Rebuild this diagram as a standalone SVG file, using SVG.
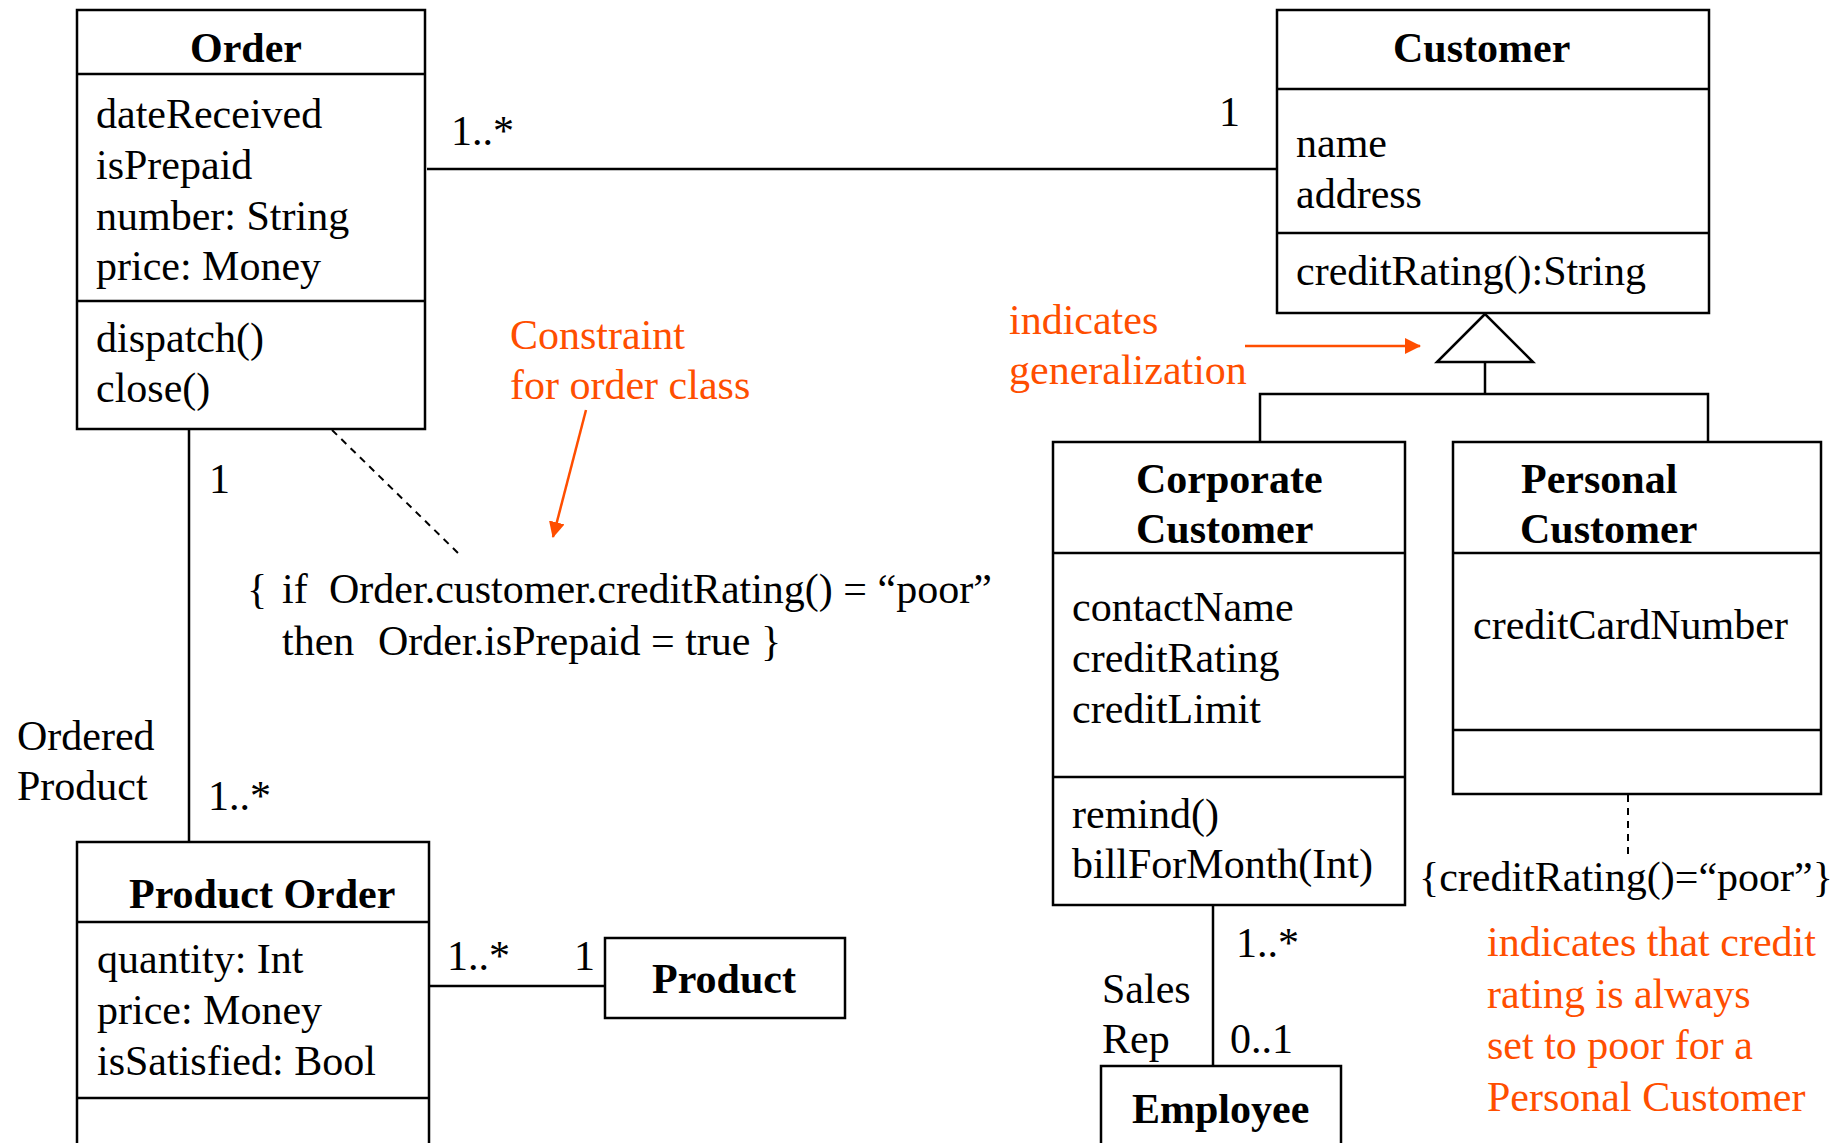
<svg xmlns="http://www.w3.org/2000/svg" width="1848" height="1143" viewBox="0 0 1848 1143">
<defs>
<style>
text{font-family:"Liberation Serif","Times New Roman",serif;font-size:42px;fill:#000}
.b{font-weight:bold}
.o{fill:#FF4E00}
.box{fill:#fff;stroke:#000;stroke-width:2.5}
.ln{stroke:#000;stroke-width:2.5;fill:none}
.dash{stroke:#000;stroke-width:2;fill:none;stroke-dasharray:7 6}
.oln{stroke:#FF4E00;stroke-width:2.5;fill:none}
</style>
<marker id="oa" viewBox="0 0 16 16" refX="15" refY="8" markerWidth="16" markerHeight="16" markerUnits="userSpaceOnUse" orient="auto">
<path d="M0,0 L16,8 L0,16 Z" fill="#FF4E00"/>
</marker>
</defs>
<rect width="1848" height="1143" fill="#fff"/>

<g id="connectors">
<line class="ln" x1="427" y1="169" x2="1277" y2="169"/>
<line class="ln" x1="189" y1="429" x2="189" y2="842"/>
<line class="ln" x1="429" y1="986" x2="605" y2="986"/>
<line class="ln" x1="1213" y1="905" x2="1213" y2="1066"/>
<polygon class="ln" points="1485,314 1437,362 1533,362" fill="#fff"/>
<polyline class="ln" points="1485,362 1485,394"/>
<polyline class="ln" points="1260,442 1260,394 1708,394 1708,442"/>
<line class="dash" x1="332" y1="430" x2="458" y2="553"/>
<line class="dash" x1="1628" y1="795" x2="1628" y2="856"/>
<line class="oln" x1="1245" y1="346" x2="1420" y2="346" marker-end="url(#oa)"/>
<line class="oln" x1="586" y1="410" x2="553" y2="537" marker-end="url(#oa)"/>
</g>

<g id="order">
<rect class="box" x="77" y="10" width="348" height="419"/>
<line class="ln" x1="77" y1="74" x2="425" y2="74"/>
<line class="ln" x1="77" y1="301" x2="425" y2="301"/>
<text class="b" x="246" y="62" text-anchor="middle">Order</text>
<text x="96" y="128">dateReceived</text>
<text x="96" y="179">isPrepaid</text>
<text x="96" y="230">number: String</text>
<text x="96" y="280">price: Money</text>
<text x="96" y="352">dispatch()</text>
<text x="96" y="402">close()</text>
</g>

<g id="customer">
<rect class="box" x="1277" y="10" width="432" height="303"/>
<line class="ln" x1="1277" y1="89" x2="1709" y2="89"/>
<line class="ln" x1="1277" y1="233" x2="1709" y2="233"/>
<text class="b" x="1393" y="62">Customer</text>
<text x="1296" y="157">name</text>
<text x="1296" y="208">address</text>
<text x="1296" y="285">creditRating():String</text>
</g>

<g id="corporate-customer">
<rect class="box" x="1053" y="442" width="352" height="463"/>
<line class="ln" x1="1053" y1="553" x2="1405" y2="553"/>
<line class="ln" x1="1053" y1="777" x2="1405" y2="777"/>
<text class="b" x="1136" y="493">Corporate</text>
<text class="b" x="1136" y="543">Customer</text>
<text x="1072" y="621">contactName</text>
<text x="1072" y="672">creditRating</text>
<text x="1072" y="723">creditLimit</text>
<text x="1072" y="828">remind()</text>
<text x="1072" y="878">billForMonth(Int)</text>
</g>

<g id="personal-customer">
<rect class="box" x="1453" y="442" width="368" height="352"/>
<line class="ln" x1="1453" y1="553" x2="1821" y2="553"/>
<line class="ln" x1="1453" y1="730" x2="1821" y2="730"/>
<text class="b" x="1521" y="493">Personal</text>
<text class="b" x="1520" y="543">Customer</text>
<text x="1473" y="639">creditCardNumber</text>
</g>

<g id="product-order">
<rect class="box" x="77" y="842" width="352" height="330"/>
<line class="ln" x1="77" y1="922" x2="429" y2="922"/>
<line class="ln" x1="77" y1="1098" x2="429" y2="1098"/>
<text class="b" x="129" y="908">Product Order</text>
<text x="97" y="973">quantity: Int</text>
<text x="97" y="1024">price: Money</text>
<text x="97" y="1075">isSatisfied: Bool</text>
</g>

<g id="product">
<rect class="box" x="605" y="938" width="240" height="80"/>
<text class="b" x="652" y="993">Product</text>
</g>

<g id="employee">
<rect class="box" x="1101" y="1066" width="240" height="110"/>
<text class="b" x="1132" y="1123">Employee</text>
</g>

<g id="labels">
<text x="451" y="145">1..*</text>
<text x="1219" y="126">1</text>
<text x="209" y="493">1</text>
<text x="17" y="750">Ordered</text>
<text x="17" y="800">Product</text>
<text x="208" y="810">1..*</text>
<text x="447" y="970">1..*</text>
<text x="574" y="970">1</text>
<text x="1236" y="957">1..*</text>
<text x="1102" y="1003">Sales</text>
<text x="1102" y="1053">Rep</text>
<text x="1230" y="1053">0..1</text>
<text x="247" y="603">{</text>
<text x="282" y="603">if</text>
<text x="329" y="603">Order.customer.creditRating() = “poor”</text>
<text x="282" y="655">then</text>
<text x="378" y="655">Order.isPrepaid = true }</text>
<text x="1419" y="891">{creditRating()=“poor”}</text>
</g>

<g id="notes">
<text class="o" x="510" y="349">Constraint</text>
<text class="o" x="510" y="399">for order class</text>
<text class="o" x="1009" y="334">indicates</text>
<text class="o" x="1009" y="384">generalization</text>
<text class="o" x="1487" y="956">indicates that credit</text>
<text class="o" x="1487" y="1008">rating is always</text>
<text class="o" x="1487" y="1059">set to poor for a</text>
<text class="o" x="1487" y="1111">Personal Customer</text>
</g>
</svg>
